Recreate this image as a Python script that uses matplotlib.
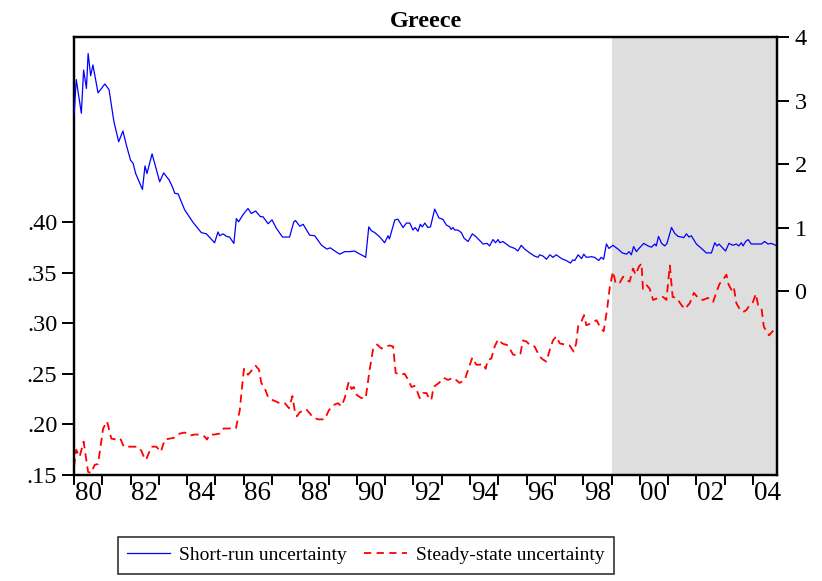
import matplotlib
matplotlib.use("Agg")
import matplotlib.pyplot as plt
from matplotlib.lines import Line2D

plt.rcParams['font.family'] = ['Liberation Serif', 'DejaVu Serif']

title = "Greece"
label_short = "Short-run uncertainty"
label_steady = "Steady-state uncertainty"

# Short-run uncertainty (right axis)
short_years = [1980.00, 1980.08, 1980.26, 1980.34, 1980.44, 1980.50, 1980.59, 1980.67, 1980.85, 1981.09,
               1981.24, 1981.41, 1981.58, 1981.73, 1981.85, 1982.00, 1982.09, 1982.18, 1982.42, 1982.51,
               1982.58, 1982.76, 1983.03, 1983.17, 1983.36, 1983.48, 1983.56, 1983.68, 1983.91, 1984.21,
               1984.50, 1984.68, 1984.97, 1985.09, 1985.15, 1985.27, 1985.39, 1985.50, 1985.65, 1985.74,
               1985.82, 1985.97, 1986.15, 1986.27, 1986.42, 1986.59, 1986.68, 1986.86, 1987.00, 1987.15,
               1987.37, 1987.62, 1987.77, 1987.83, 1987.98, 1988.10, 1988.33, 1988.51, 1988.75, 1988.94,
               1989.06, 1989.22, 1989.39, 1989.57, 1989.75, 1989.92, 1990.07, 1990.28, 1990.31, 1990.42,
               1990.51, 1990.63, 1990.81, 1990.98, 1991.10, 1991.15, 1991.34, 1991.45, 1991.63, 1991.75,
               1991.87, 1991.98, 1992.06, 1992.16, 1992.24, 1992.31, 1992.40, 1992.51, 1992.60, 1992.75,
               1992.90, 1993.04, 1993.16, 1993.28, 1993.33, 1993.39, 1993.46, 1993.57, 1993.69, 1993.79,
               1993.93, 1994.08, 1994.22, 1994.46, 1994.60, 1994.69, 1994.81, 1994.90, 1994.99, 1995.05,
               1995.16, 1995.40, 1995.58, 1995.69, 1995.81, 1995.93, 1996.11, 1996.28, 1996.40, 1996.46,
               1996.58, 1996.70, 1996.82, 1996.93, 1997.05, 1997.17, 1997.28, 1997.40, 1997.55, 1997.63,
               1997.70, 1997.82, 1997.94, 1998.02, 1998.11, 1998.29, 1998.40, 1998.55, 1998.63, 1998.72,
               1998.82, 1998.91, 1999.05, 1999.23, 1999.38, 1999.53, 1999.62, 1999.70, 1999.78, 1999.88,
               1999.97, 2000.14, 2000.29, 2000.41, 2000.53, 2000.58, 2000.66, 2000.77, 2000.88, 2000.96,
               2001.12, 2001.23, 2001.35, 2001.47, 2001.55, 2001.65, 2001.74, 2001.82, 2002.00, 2002.18,
               2002.35, 2002.53, 2002.65, 2002.73, 2002.80, 2002.88, 2003.03, 2003.15, 2003.29, 2003.41,
               2003.50, 2003.59, 2003.65, 2003.74, 2003.83, 2003.94, 2004.12, 2004.30, 2004.41, 2004.53,
               2004.65, 2004.80]
short_vals = [2.75, 3.33, 2.80, 3.48, 3.19, 3.74, 3.39, 3.56, 3.12, 3.26,
              3.17, 2.67, 2.35, 2.52, 2.30, 2.06, 2.01, 1.85, 1.60, 1.97,
              1.85, 2.16, 1.72, 1.86, 1.75, 1.64, 1.54, 1.53, 1.28, 1.08,
              0.92, 0.90, 0.76, 0.93, 0.87, 0.90, 0.86, 0.85, 0.75, 1.14,
              1.09, 1.20, 1.30, 1.22, 1.26, 1.17, 1.17, 1.06, 1.12, 0.99,
              0.85, 0.85, 1.09, 1.11, 1.02, 1.05, 0.88, 0.87, 0.72, 0.66,
              0.68, 0.63, 0.58, 0.62, 0.62, 0.63, 0.59, 0.54, 0.53, 1.01,
              0.95, 0.92, 0.85, 0.76, 0.87, 0.82, 1.12, 1.13, 1.00, 1.07,
              1.07, 0.96, 1.00, 0.94, 1.05, 1.01, 1.07, 1.00, 1.01, 1.29,
              1.15, 1.13, 1.04, 1.01, 0.97, 1.00, 0.96, 0.96, 0.92, 0.83,
              0.78, 0.90, 0.85, 0.74, 0.75, 0.71, 0.81, 0.76, 0.81, 0.76,
              0.78, 0.70, 0.67, 0.63, 0.72, 0.66, 0.60, 0.55, 0.53, 0.57,
              0.55, 0.50, 0.57, 0.53, 0.57, 0.53, 0.50, 0.48, 0.44, 0.49,
              0.48, 0.57, 0.51, 0.58, 0.53, 0.54, 0.53, 0.48, 0.53, 0.50,
              0.74, 0.67, 0.72, 0.66, 0.60, 0.58, 0.62, 0.57, 0.70, 0.62,
              0.67, 0.75, 0.71, 0.69, 0.74, 0.71, 0.86, 0.75, 0.71, 0.75,
              1.00, 0.91, 0.86, 0.85, 0.84, 0.90, 0.85, 0.87, 0.74, 0.67,
              0.60, 0.60, 0.76, 0.71, 0.74, 0.70, 0.63, 0.75, 0.72, 0.74,
              0.71, 0.76, 0.71, 0.78, 0.81, 0.74, 0.74, 0.74, 0.78, 0.74,
              0.75, 0.72]

# Steady-state uncertainty (left axis)
steady_years = [1980.00, 1980.08, 1980.20, 1980.34, 1980.50, 1980.61, 1980.73, 1980.85, 1981.03, 1981.17,
                1981.32, 1981.50, 1981.64, 1981.76, 1981.91, 1982.09, 1982.26, 1982.38, 1982.47, 1982.55,
                1982.62, 1982.74, 1982.91, 1983.07, 1983.21, 1983.38, 1983.56, 1983.74, 1983.91, 1984.09,
                1984.27, 1984.44, 1984.62, 1984.70, 1984.80, 1984.97, 1985.15, 1985.29, 1985.50, 1985.72,
                1985.86, 1985.94, 1986.01, 1986.15, 1986.27, 1986.42, 1986.54, 1986.62, 1986.74, 1986.86,
                1987.03, 1987.27, 1987.45, 1987.60, 1987.72, 1987.80, 1987.88, 1987.98, 1988.21, 1988.45,
                1988.63, 1988.86, 1989.01, 1989.16, 1989.33, 1989.45, 1989.57, 1989.71, 1989.81, 1989.89,
                1990.00, 1990.16, 1990.31, 1990.45, 1990.57, 1990.71, 1990.87, 1991.02, 1991.16, 1991.28,
                1991.37, 1991.51, 1991.69, 1991.81, 1991.93, 1992.04, 1992.10, 1992.22, 1992.34, 1992.46,
                1992.55, 1992.63, 1992.71, 1992.90, 1993.07, 1993.22, 1993.40, 1993.50, 1993.63, 1993.81,
                1993.93, 1994.08, 1994.22, 1994.34, 1994.46, 1994.55, 1994.63, 1994.75, 1994.87, 1994.99,
                1995.14, 1995.34, 1995.52, 1995.69, 1995.78, 1995.87, 1995.99, 1996.13, 1996.28, 1996.46,
                1996.58, 1996.70, 1996.82, 1996.93, 1997.05, 1997.17, 1997.35, 1997.52, 1997.66, 1997.75,
                1997.82, 1997.91, 1998.03, 1998.11, 1998.29, 1998.47, 1998.58, 1998.72, 1998.84, 1998.94,
                1999.05, 1999.15, 1999.29, 1999.41, 1999.53, 1999.64, 1999.76, 1999.85, 1999.97, 2000.06,
                2000.11, 2000.23, 2000.35, 2000.47, 2000.65, 2000.82, 2000.94, 2001.06, 2001.16, 2001.30,
                2001.47, 2001.59, 2001.77, 2001.91, 2002.06, 2002.23, 2002.41, 2002.59, 2002.71, 2002.82,
                2002.94, 2003.06, 2003.14, 2003.24, 2003.32, 2003.41, 2003.53, 2003.65, 2003.77, 2003.88,
                2004.00, 2004.10, 2004.18, 2004.30, 2004.38, 2004.47, 2004.57, 2004.69, 2004.83]
steady_vals = [.158, .175, .168, .183, .153, .152, .160, .161, .196, .203,
               .186, .185, .186, .178, .178, .178, .178, .174, .168, .165,
               .170, .178, .178, .173, .185, .186, .187, .191, .192, .189,
               .190, .190, .188, .185, .190, .190, .191, .196, .196, .196,
               .214, .237, .255, .249, .253, .258, .254, .241, .236, .227,
               .224, .221, .221, .216, .228, .214, .208, .212, .215, .207,
               .205, .205, .214, .219, .221, .218, .226, .242, .235, .237,
               .229, .226, .226, .254, .274, .279, .275, .277, .278, .277,
               .251, .249, .250, .244, .237, .238, .235, .226, .231, .231,
               .226, .224, .237, .241, .246, .244, .246, .244, .241, .244,
               .254, .266, .259, .259, .260, .255, .264, .265, .277, .284,
               .280, .278, .269, .268, .270, .283, .282, .278, .277, .267,
               .264, .262, .274, .283, .287, .280, .279, .278, .272, .280,
               .297, .300, .308, .298, .300, .303, .297, .292, .313, .336,
               .351, .339, .340, .346, .343, .341, .354, .348, .356, .359,
               .334, .338, .334, .323, .325, .326, .323, .357, .326, .325,
               .318, .314, .320, .330, .325, .323, .325, .321, .331, .339,
               .343, .348, .338, .333, .336, .320, .314, .311, .313, .318,
               .321, .329, .318, .315, .297, .292, .288, .292, .294]

left_ticks = [.15, .20, .25, .30, .35, .40]
left_ticklabels = [".15", ".20", ".25", ".30", ".35", ".40"]
right_ticks = [0, 1, 2, 3, 4]
right_ticklabels = ["0", "1", "2", "3", "4"]
year_ticks = list(range(1980, 2005))
label_years = list(range(1980, 2005, 2))
year_labels = ["%02d" % (y % 100) for y in label_years]
shade_start = 1999
x_end = 2004.85

fig = plt.figure(figsize=(8.22, 5.81), dpi=100)
ax = fig.add_axes([0.0900, 0.1824, 0.8553, 0.7539])
ax2 = ax.twinx()

ax.axvspan(shade_start, x_end, color='#dedede', lw=0, zorder=0)
l2, = ax.plot(steady_years, steady_vals, color='#ff0000', lw=1.3,
              linestyle=(0, (4.5, 2.8)), zorder=2)
l1, = ax2.plot(short_years, short_vals, color='#0000ff', lw=0.9, zorder=3)

ax.set_xlim(1980, x_end)
ax.set_ylim(0.15, 0.5828)
ax2.set_ylim(-2.898, 4.0)

ax.set_yticks(left_ticks)
ax.set_yticklabels(left_ticklabels)
ax2.set_yticks(right_ticks)
ax2.set_yticklabels(right_ticklabels)

ax.set_xticks(year_ticks)
ax.set_xticklabels([])
ax.set_xticks([y + 0.5 for y in label_years], minor=True)
ax.set_xticklabels(year_labels, minor=True)
ax.tick_params(axis='x', which='major', direction='out', length=7.5, width=1.4, color='black')
ax.tick_params(axis='x', which='minor', length=0, pad=4, labelsize=19.5)
ax.tick_params(axis='y', direction='out', length=8.5, width=1.4, pad=3.5, labelsize=17.5)
ax2.tick_params(axis='y', direction='out', length=8.5, width=1.4, pad=4, labelsize=17.5)

for a in (ax, ax2):
    for s in a.spines.values():
        s.set_linewidth(1.6)
        s.set_color('black')

ax.set_title(title, fontsize=17.5, fontweight='bold', pad=7)

handles = [Line2D([], [], color='#0000ff', lw=0.9),
           Line2D([], [], color='#ff0000', lw=1.3, linestyle=(0, (4.0, 3.0)))]
leg = fig.legend(handles, [label_short, label_steady], loc='center',
                 bbox_to_anchor=(0.445, 0.0439), ncol=2, fontsize=14,
                 frameon=True, fancybox=False, edgecolor='black',
                 handlelength=2.2, columnspacing=0.9, borderpad=0.5,
                 handletextpad=0.45, borderaxespad=0)
leg.get_frame().set_linewidth(1.2)

fig.savefig("out.png", dpi=100)
